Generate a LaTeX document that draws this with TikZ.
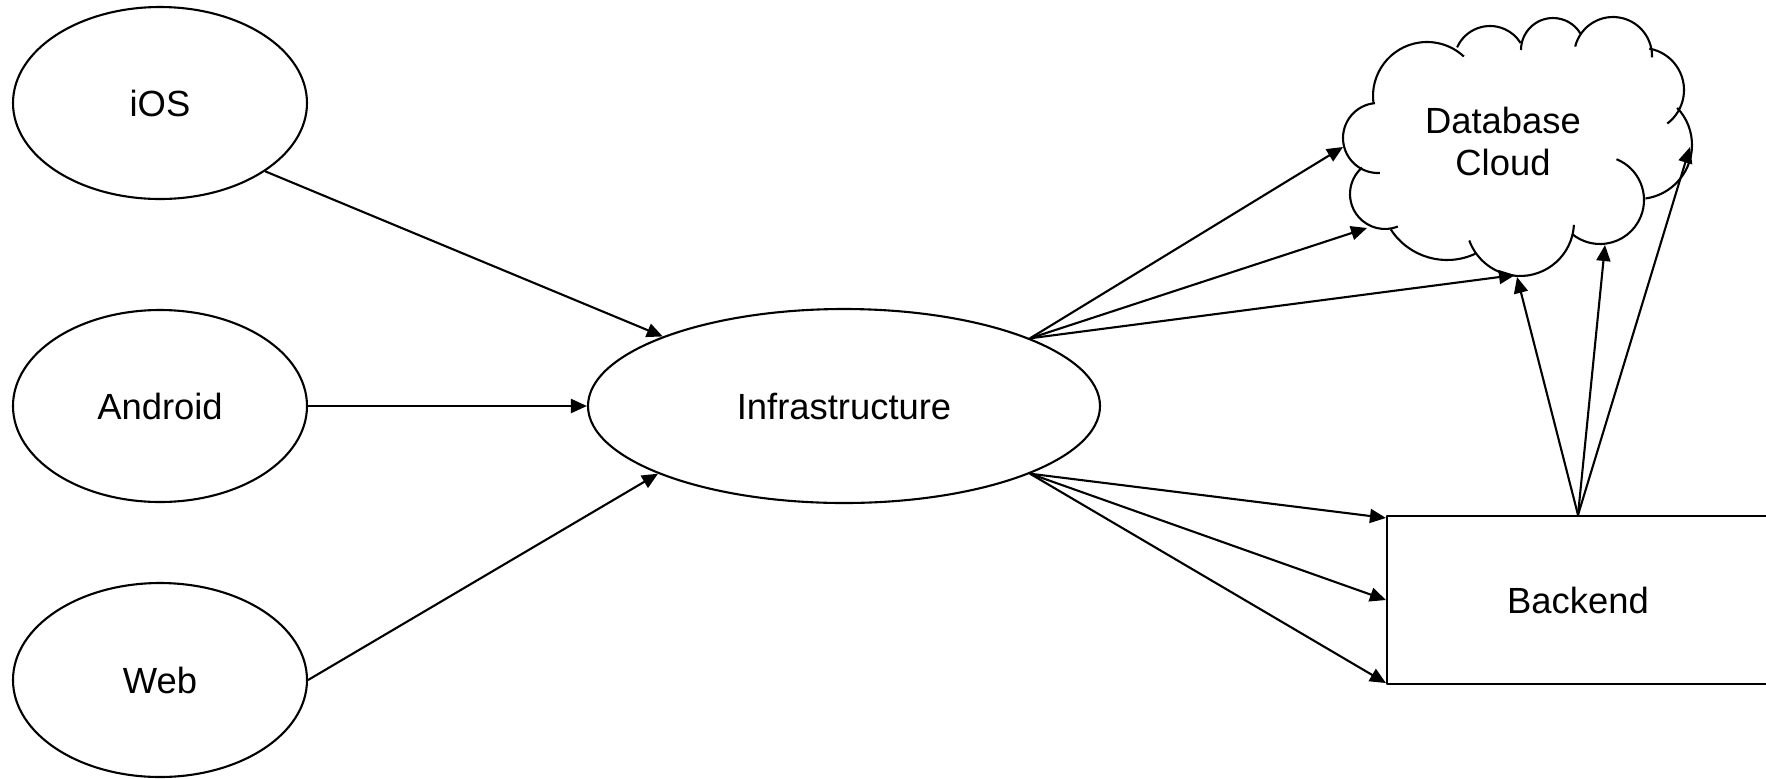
\documentclass[tikz,border=0pt]{standalone}
\usepackage{fontspec}
\setmainfont{Liberation Sans}
\usetikzlibrary{shapes.geometric,arrows.meta}
\begin{document}
\begin{tikzpicture}[x=0.5pt,y=-0.5pt,
  line width=1.05pt, line join=round,
  ell/.style={draw, ellipse, inner sep=0pt, font=\fontsize{18.2pt}{21pt}\selectfont},
  boxnode/.style={draw, rectangle, inner sep=0pt, font=\fontsize{18.2pt}{21pt}\selectfont},
  conn/.style={-{Triangle[length=8pt,width=7pt]}},
  cloudline/.style={line width=1.05pt}]
\useasboundingbox (0,0) rectangle (1766,778);
\clip (0,0) rectangle (1766,778);

% client ellipses
\node[ell, minimum width=147pt, minimum height=96pt] (ios) at (160,103) {iOS};
\node[ell, minimum width=147pt, minimum height=96pt] (android) at (160,406) {Android};
\node[ell, minimum width=147pt, minimum height=97pt] (web) at (160,680) {Web};

% infrastructure
\node[ell, minimum width=256pt, minimum height=97pt] (infra) at (844,406) {Infrastructure};

% backend (cut at right edge)
\node[boxnode, minimum width=191pt, minimum height=84pt] (backend) at (1578,600) {Backend};

% cloud outline
\draw[cloudline] (1378,138) ++(-95:35) arc[start angle=-95, end angle=-273, radius=35];
\draw[cloudline] (1427,96) ++(-188:54) arc[start angle=-188, end angle=-47, radius=54];
\draw[cloudline] (1490,62) ++(-156:36) arc[start angle=-156, end angle=-32, radius=36];
\draw[cloudline] (1553,50) ++(-180:32) arc[start angle=-180, end angle=-31, radius=32];
\draw[cloudline] (1613,56) ++(-166:39) arc[start angle=-166, end angle=2, radius=39];
\draw[cloudline] (1642,90) ++(-80:42) arc[start angle=-80, end angle=53, radius=42];
\draw[cloudline] (1638,145) ++(-43.5:54) arc[start angle=-43.5, end angle=82, radius=54];
\draw[cloudline] (1600,200) ++(-68:44) arc[start angle=-68, end angle=129, radius=44];
\draw[cloudline] (1520,222) ++(3:54) arc[start angle=3, end angle=160, radius=54];
\draw[cloudline] (1447,193) ++(65:67) arc[start angle=65, end angle=147, radius=67];
\draw[cloudline] (1385,194) ++(-131:35) arc[start angle=-131, end angle=-291.5, radius=35];
\node[align=center, font=\fontsize{18.2pt}{21pt}\selectfont] (cloudtext) at (1503,141) {Database\\Cloud};

% connection points on the cloud
\coordinate (c1) at (1343,147);
\coordinate (c2) at (1367,228);
\coordinate (c3) at (1515,275);
\coordinate (c4) at (1517,277);
\coordinate (c5) at (1605,245);
\coordinate (c6) at (1690,147);

% clients -> infrastructure
\draw[conn] (ios.-33.3) -- (infra.159.2);
\draw[conn] (android.east) -- (infra.west);
\draw[conn] (web.east) -- (infra.200.8);

% infrastructure -> cloud
\draw[conn] (infra.20.7) -- (c1);
\draw[conn] (infra.20.7) -- (c2);
\draw[conn] (infra.20.7) -- (c3);

% infrastructure -> backend
\draw[conn] (infra.-20.7) -- ([yshift=-1.5pt]backend.north west);
\draw[conn] (infra.-20.7) -- (backend.west);
\draw[conn] (infra.-20.7) -- ([yshift=1pt]backend.south west);

% backend -> cloud
\draw[conn] (backend.north) -- (c4);
\draw[conn] (backend.north) -- (c5);
\draw[conn] (backend.north) -- (c6);
\end{tikzpicture}
\end{document}
